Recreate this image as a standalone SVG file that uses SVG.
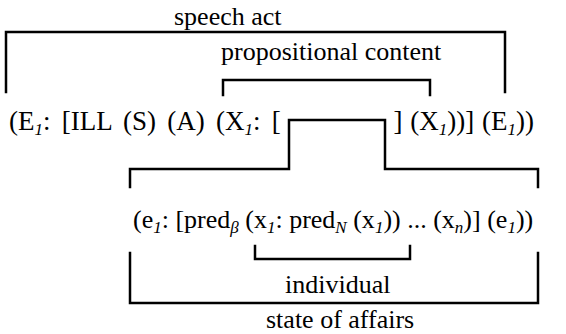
<svg xmlns="http://www.w3.org/2000/svg" width="566" height="334" viewBox="0 0 566 334" font-family="Liberation Serif, Times New Roman, DejaVu Serif, serif">
<style>
text{font-family:'Liberation Serif','Times New Roman','DejaVu Serif',serif;font-size:26px;fill:#000}
.l1{font-size:27px;word-spacing:4.5px}
.l1b{font-size:27px;word-spacing:1px}
.sub{font-style:italic;font-size:17px}
.br{fill:none;stroke:#000;stroke-width:2.5;stroke-linecap:square;stroke-linejoin:miter}
</style>
<rect width="566" height="334" fill="#fff"/>
<g id="label-speech-act"><text x="174" y="25">speech act</text></g>
<g id="label-propositional-content"><text x="221" y="60">propositional content</text></g>
<g id="formula-speech-act">
<text class="l1" x="9" y="130">(E<tspan class="sub" dy="5">1</tspan><tspan dy="-5">: [ILL (S) (A) (X</tspan><tspan class="sub" dy="5">1</tspan><tspan dy="-5">: [</tspan></text>
<text class="l1b" x="534" y="130" text-anchor="end">] (X<tspan class="sub" dy="5">1</tspan><tspan dy="-5">))] (E</tspan><tspan class="sub" dy="5">1</tspan><tspan dy="-5">))</tspan></text>
</g>
<g id="formula-state-of-affairs">
<text x="133" y="228">(e<tspan class="sub" dy="5">1</tspan><tspan dy="-5">: [pred</tspan><tspan class="sub" dy="5">β</tspan><tspan dy="-5"> (x</tspan><tspan class="sub" dy="5">1</tspan><tspan dy="-5">: pred</tspan><tspan class="sub" dy="5">N</tspan><tspan dy="-5"> (x</tspan><tspan class="sub" dy="5">1</tspan><tspan dy="-5">)) ... (x</tspan><tspan class="sub" dy="5">n</tspan><tspan dy="-5">)] (e</tspan><tspan class="sub" dy="5">1</tspan><tspan dy="-5">))</tspan></text>
</g>
<g id="label-individual"><text x="285" y="293">individual</text></g>
<g id="label-state-of-affairs"><text x="266" y="328">state of affairs</text></g>
<g id="connectors">
<path class="br" d="M6,92 V32 H505 V92"/>
<path class="br" d="M223,95 V80 H430 V95"/>
<path class="br" d="M130,187 V169 H289 V120 H385 V169 H538 V187"/>
<path class="br" d="M255,246 V259 H410 V246"/>
<path class="br" d="M130,253 V303 H538 V253"/>
</g>
</svg>
